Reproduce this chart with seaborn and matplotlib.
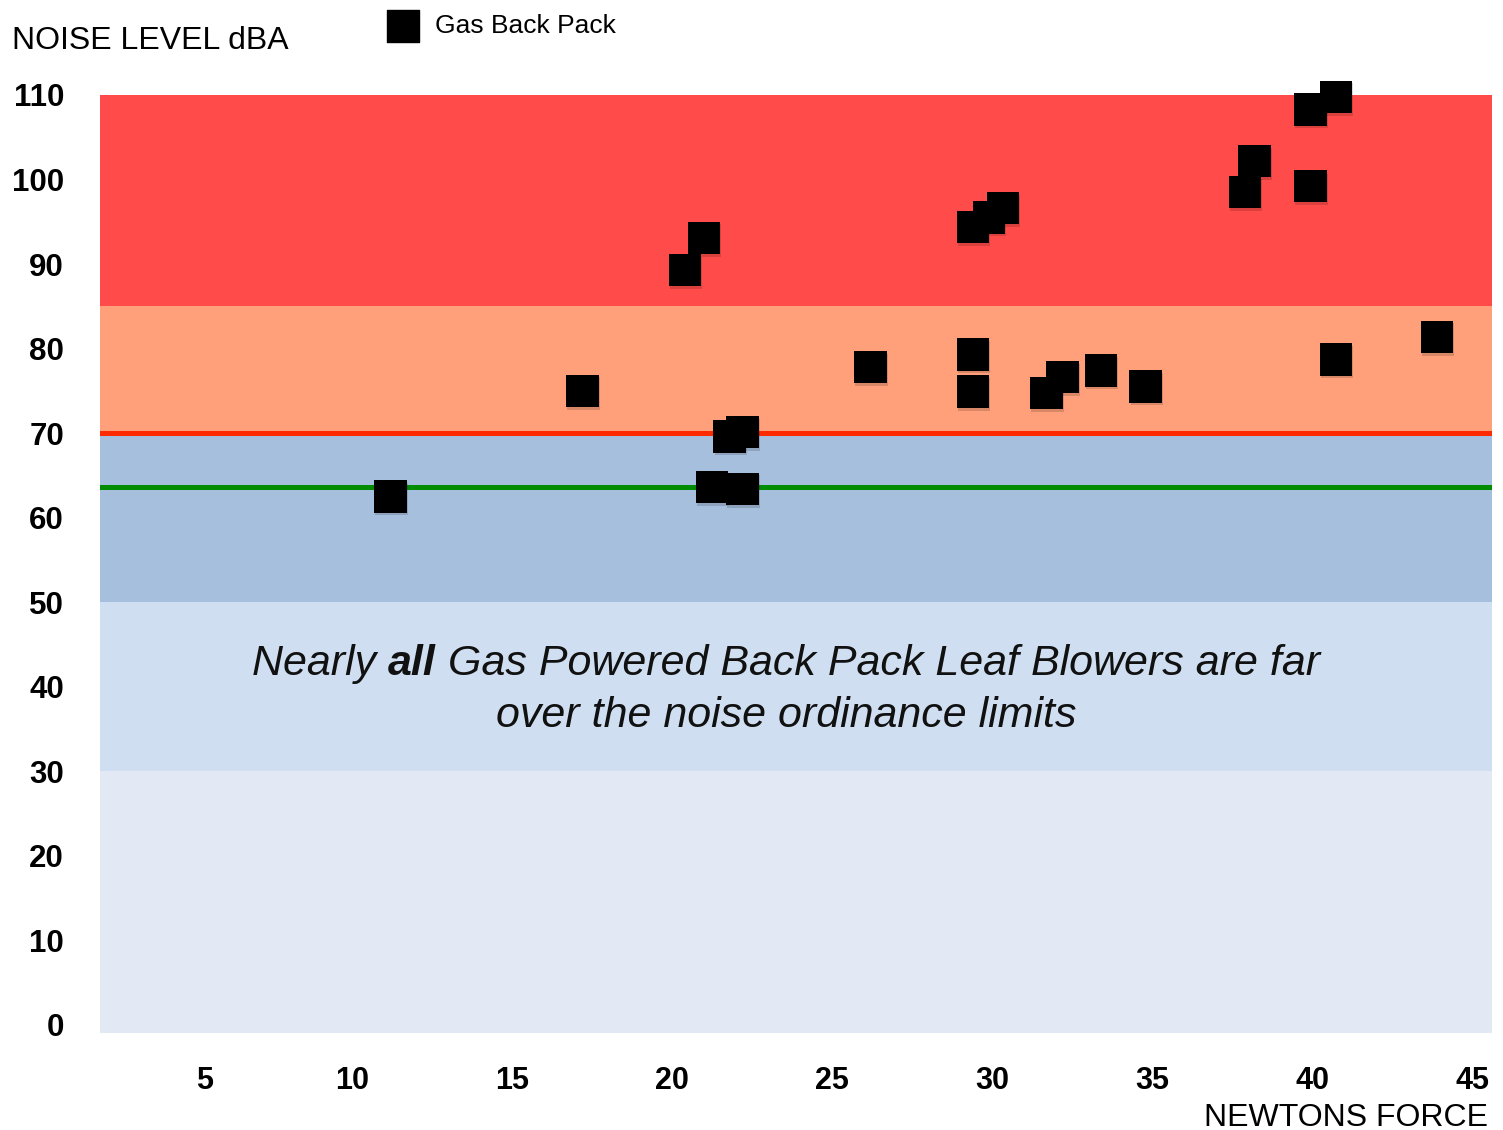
import matplotlib
matplotlib.use("Agg")
import matplotlib.pyplot as plt
import matplotlib.patheffects as pe
from matplotlib.offsetbox import TextArea, HPacker, AnnotationBbox
from matplotlib.transforms import ScaledTranslation
import pandas as pd
import seaborn as sns

force = [11.2, 17.2, 20.4, 21.0, 21.8, 22.2, 21.25, 22.2, 26.2,
         30.35, 29.9, 29.4, 29.4, 29.4, 31.7, 32.2, 33.4, 34.8,
         40.75, 39.95, 38.2, 37.9, 39.95, 40.75, 43.9]
noise = [62.5, 75.0, 89.3, 93.1, 69.6, 70.1, 63.6, 63.4, 77.8,
         96.6, 95.5, 94.4, 79.3, 74.9, 74.7, 76.6, 77.4, 75.5,
         109.8, 108.3, 102.2, 98.5, 99.2, 78.7, 81.4]

# background zones (lower, upper, colour)
band_lo = [-2, 30, 50, 70, 85]
band_hi = [30, 50, 70, 85, 110]
band_colors = ["#e2e9f4", "#cfdff1", "#a6bfdd", "#ffa07a", "#ff4c4a"]

x_ticks = [5, 10, 15, 20, 25, 30, 35, 40, 45]
y_ticks = [0, 10, 20, 30, 40, 50, 60, 70, 80, 90, 100, 110]

sns.set_style("white")
plt.rcParams["font.family"] = ["Liberation Sans", "DejaVu Sans"]
plt.rcParams.update({"text.color": "black", "xtick.color": "black",
                     "ytick.color": "black"})

df = pd.DataFrame({"force": force, "noise": noise})

fig = plt.figure(figsize=(15.03, 11.30), dpi=100)
ax = fig.add_axes([100 / 1503, 1 - 1033 / 1130, 1392 / 1503, 938 / 1130])

for lo, hi, c in zip(band_lo, band_hi, band_colors):
    ax.axhspan(lo, hi, color=c, lw=0, zorder=0)

# ordinance limit lines
ax.axhline(70, color="#ff2a00", lw=3.6, zorder=1)
ax.axhline(63.6, color="#008c00", lw=3.6, zorder=1)

sns.scatterplot(data=df, x="force", y="noise", marker="s", color="black",
                s=540, linewidth=0, ax=ax, zorder=3, clip_on=False,
                legend=False)
for coll in ax.collections:
    coll.set_path_effects([pe.SimplePatchShadow(offset=(0.8, -2), alpha=0.15),
                           pe.Normal()])

ax.set_xlim(2.125, 45.625)
ax.set_ylim(-1, 110)
ax.set_xticks(x_ticks)
ax.set_yticks(y_ticks)
ax.set_xticklabels([str(t) for t in x_ticks], fontsize=22, fontweight="bold")
ax.set_yticklabels([str(t) for t in y_ticks], fontsize=22.5, fontweight="bold")
ax.tick_params(axis="both", length=0)
ax.tick_params(axis="x", pad=24)
ax.tick_params(axis="y", pad=26)
ax.set_xlabel("")
ax.set_ylabel("")
for s in ax.spines.values():
    s.set_visible(False)
ax.grid(False)

# the "5" sits a little right of its tick in the original
lbl5 = ax.get_xticklabels()[0]
lbl5.set_transform(lbl5.get_transform() + ScaledTranslation(0.13, 0, fig.dpi_scale_trans))

# axis titles
fig.text(12 / 1503, 1 - 41 / 1130, "NOISE LEVEL dBA", fontsize=23,
         ha="left", va="center")
fig.text(1488 / 1503, 1 - 1118 / 1130, "NEWTONS FORCE", fontsize=23,
         ha="right", va="center")

# legend
handle = ax.scatter([], [], marker="s", color="black", s=540)
fig.legend(handles=[handle], labels=["Gas Back Pack"],
           loc="upper left", bbox_to_anchor=(370 / 1503, 1 - 1 / 1130),
           frameon=False, fontsize=19, handletextpad=0.45, borderpad=0,
           handlelength=1.5, scatterpoints=1)

# annotation
tp = dict(fontsize=31, fontstyle="italic", color="#111111")
line1 = HPacker(children=[
    TextArea("Nearly ", textprops=tp),
    TextArea("all", textprops=dict(tp, fontweight="bold")),
    TextArea(" Gas Powered Back Pack Leaf Blowers are far", textprops=tp),
], sep=0, pad=0, align="baseline")
ab = AnnotationBbox(line1, (23.56, 42.7), frameon=False, box_alignment=(0.5, 0.5),
                    zorder=2)
ax.add_artist(ab)
ax.text(23.56, 36.5, "over the noise ordinance limits", ha="center",
        va="center", zorder=2, **tp)

fig.savefig("out.png", dpi=100)
